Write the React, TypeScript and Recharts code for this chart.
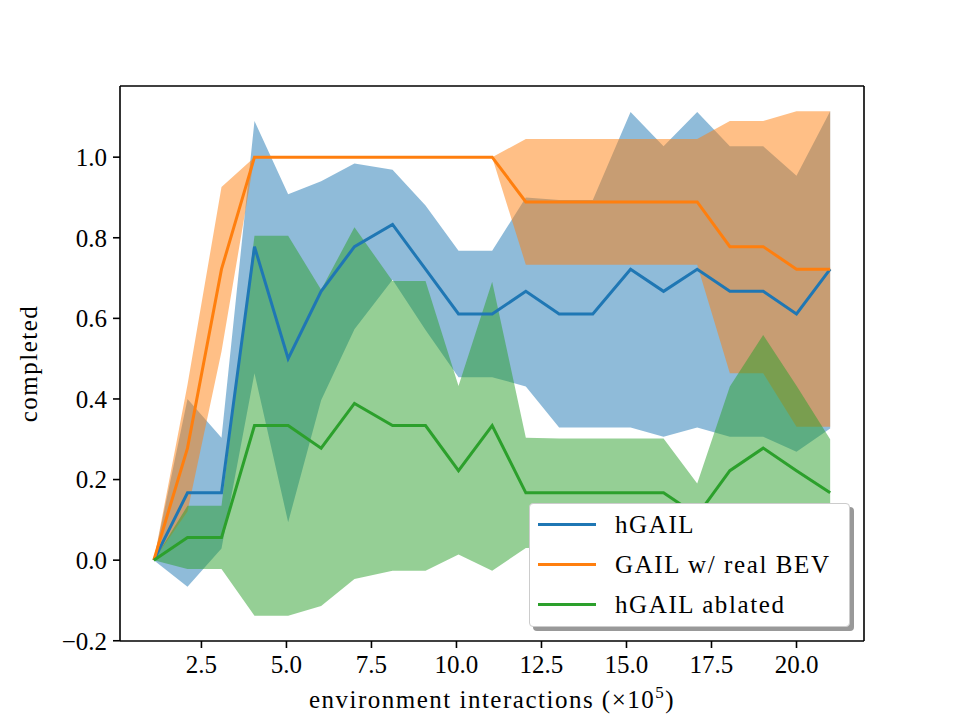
import { Area, ComposedChart, Legend, Line, ReferenceLine, XAxis, YAxis } from 'recharts';

// environment interactions, in units of 1e5
const steps = [
  1.1, 2.09, 3.09, 4.06, 5.05, 6.02, 7.0, 8.12, 9.09, 10.06, 11.05,
  12.04, 13.02, 14.01, 15.12, 16.09, 17.08, 18.04, 19.02, 20.0, 20.99,
];

const hgailMean = [0, 0.167, 0.167, 0.778, 0.5, 0.667, 0.778, 0.833, 0.722, 0.611, 0.611, 0.667, 0.611, 0.611, 0.722, 0.667, 0.722, 0.667, 0.667, 0.611, 0.722];
const hgailUpper = [0, 0.4, 0.304, 1.09, 0.908, 0.94, 0.984, 0.969, 0.88, 0.768, 0.768, 0.9, 0.894, 0.894, 1.112, 1.027, 1.112, 1.027, 1.027, 0.954, 1.114];
const hgailLower = [0, -0.066, 0.029, 0.464, 0.094, 0.397, 0.573, 0.696, 0.571, 0.454, 0.454, 0.431, 0.329, 0.329, 0.329, 0.306, 0.329, 0.306, 0.306, 0.269, 0.327];

const gailMean = [0, 0.278, 0.722, 1, 1, 1, 1, 1, 1, 1, 1, 0.889, 0.889, 0.889, 0.889, 0.889, 0.889, 0.778, 0.778, 0.722, 0.722];
const gailUpper = [0, 0.435, 0.926, 1, 1, 1, 1, 1, 1, 1, 1, 1.045, 1.045, 1.045, 1.045, 1.045, 1.045, 1.09, 1.09, 1.114, 1.114];
const gailLower = [0, 0.121, 0.518, 1, 1, 1, 1, 1, 1, 1, 1, 0.733, 0.733, 0.733, 0.733, 0.733, 0.733, 0.464, 0.464, 0.331, 0.331];

const ablatedMean = [0, 0.056, 0.056, 0.334, 0.334, 0.278, 0.389, 0.334, 0.334, 0.222, 0.334, 0.167, 0.167, 0.167, 0.167, 0.167, 0.111, 0.222, 0.278, 0.222, 0.167];
const ablatedUpper = [0, 0.135, 0.135, 0.805, 0.805, 0.671, 0.826, 0.693, 0.693, 0.432, 0.691, 0.304, 0.302, 0.302, 0.302, 0.302, 0.19, 0.431, 0.559, 0.433, 0.3];
const ablatedLower = [0, -0.022, -0.022, -0.138, -0.138, -0.114, -0.047, -0.026, -0.026, 0.014, -0.026, 0.03, 0.032, 0.032, 0.032, 0.032, 0.032, 0.013, -0.003, 0.011, 0.034];

const xTicks = [2.5, 5, 7.5, 10, 12.5, 15, 17.5, 20];
const yTicks = [-0.2, 0, 0.2, 0.4, 0.6, 0.8, 1.0];

const X_DOMAIN: [number, number] = [0.105, 21.985];
const Y_DOMAIN: [number, number] = [-0.2006, 1.1766];

const FONT = "'Liberation Serif', 'Times New Roman', serif";

const series = [
  { key: 'hgail', name: 'hGAIL', color: '#1f77b4' },
  { key: 'gail', name: 'GAIL w/ real BEV', color: '#ff7f0e' },
  { key: 'ablated', name: 'hGAIL ablated', color: '#2ca02c' },
];

const rows = steps.map((x, i) => ({
  x,
  hgail: hgailMean[i],
  hgailBand: [hgailLower[i], hgailUpper[i]],
  gail: gailMean[i],
  gailBand: [gailLower[i], gailUpper[i]],
  ablated: ablatedMean[i],
  ablatedBand: [ablatedLower[i], ablatedUpper[i]],
}));

const fmt = (v: number) => v.toFixed(1).replace('-', '\u2212');

const renderXLabel = (props: any) => {
  const vb = props.viewBox || { x: 120, y: 641, width: 744 };
  return (
    <text
      x={vb.x + vb.width / 2}
      y={vb.y + 67}
      textAnchor="middle"
      fontSize={25}
      fontFamily={FONT}
      letterSpacing={1.5}
      fill="#000"
    >
      environment interactions (×10
      <tspan dy={-10} fontSize={17}>5</tspan>
      <tspan dy={10}>)</tspan>
    </text>
  );
};

const renderYLabel = (props: any) => {
  const vb = props.viewBox || { x: 0, y: 86, height: 555 };
  const cy = vb.y + vb.height / 2;
  return (
    <text
      x={37}
      y={cy}
      transform={`rotate(-90, 37, ${cy})`}
      textAnchor="middle"
      fontSize={25}
      fontFamily={FONT}
      letterSpacing={1.5}
      fill="#000"
    >
      completed
    </text>
  );
};

const renderLegend = () => (
  <div
    style={{
      width: 321,
      height: 124,
      boxSizing: 'border-box',
      background: '#fff',
      border: '1px solid #cccccc',
      borderRadius: 4,
      boxShadow: '4px 4px 0 #999999',
      fontFamily: FONT,
      fontSize: 25,
      color: '#000',
    }}
  >
    {series.map((s) => (
      <div key={s.key} style={{ height: 40, display: 'flex', alignItems: 'center' }}>
        <div style={{ width: 58, height: 3, marginLeft: 8, background: s.color }} />
        <span style={{ marginLeft: 19, lineHeight: 1, whiteSpace: 'nowrap', letterSpacing: 1.6 }}>{s.name}</span>
      </div>
    ))}
  </div>
);

export default function App() {
  return (
    <div style={{ position: 'absolute', left: 0, top: 0, width: 960, height: 720, background: '#fff' }}>
      <ComposedChart
        width={960}
        height={720}
        data={rows}
        margin={{ top: 86, right: 96, bottom: 0, left: 0 }}
        style={{ fontFamily: FONT }}
      >
        <XAxis
          dataKey="x"
          type="number"
          domain={X_DOMAIN}
          allowDataOverflow
          ticks={xTicks}
          tickFormatter={fmt}
          height={79}
          tick={{ fontSize: 25, fill: '#000', fontFamily: FONT }}
          tickSize={7}
          tickMargin={7}
          tickLine={{ stroke: '#000', strokeWidth: 1.6 }}
          axisLine={{ stroke: '#000', strokeWidth: 1.6 }}
          label={renderXLabel}
        />
        <YAxis
          type="number"
          domain={Y_DOMAIN}
          allowDataOverflow
          ticks={yTicks}
          tickFormatter={fmt}
          width={120}
          tick={{ fontSize: 25, fill: '#000', fontFamily: FONT }}
          tickSize={7}
          tickMargin={6}
          tickLine={{ stroke: '#000', strokeWidth: 1.6 }}
          axisLine={{ stroke: '#000', strokeWidth: 1.6 }}
          label={renderYLabel}
        />
        <ReferenceLine y={Y_DOMAIN[1]} stroke="#000" strokeWidth={1.6} />
        <ReferenceLine x={X_DOMAIN[1]} stroke="#000" strokeWidth={1.6} />

        {series.map((s) => (
          <Area
            key={`${s.key}-band`}
            type="linear"
            dataKey={`${s.key}Band`}
            stroke="none"
            fill={s.color}
            fillOpacity={0.5}
            dot={false}
            activeDot={false}
            legendType="none"
            isAnimationActive={false}
          />
        ))}
        {series.map((s) => (
          <Line
            key={s.key}
            type="linear"
            dataKey={s.key}
            name={s.name}
            stroke={s.color}
            strokeWidth={3}
            dot={false}
            activeDot={false}
            isAnimationActive={false}
          />
        ))}

        <Legend
          layout="horizontal"
          align="center"
          verticalAlign="middle"
          width={321}
          height={124}
          content={renderLegend}
          wrapperStyle={{ left: 529, top: 503, width: 321, height: 124 }}
        />
      </ComposedChart>
    </div>
  );
}
